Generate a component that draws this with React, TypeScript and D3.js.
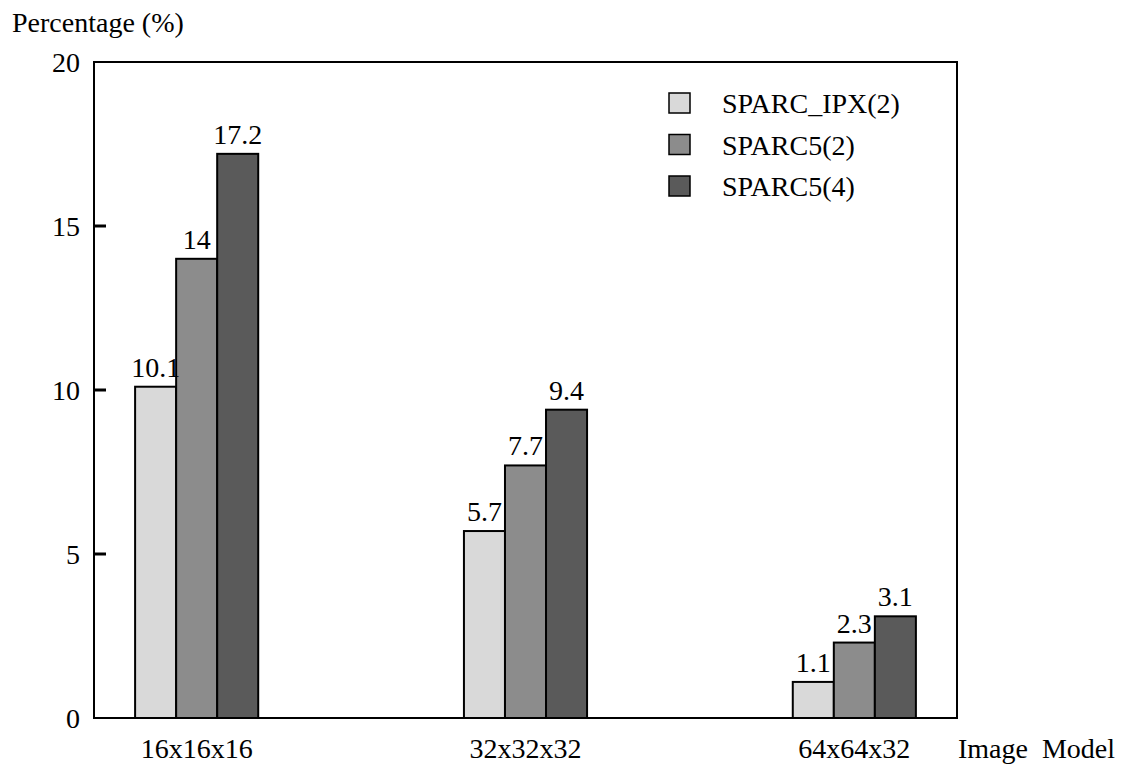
import React from "react";
import * as d3 from "d3";

const categories = ["16x16x16", "32x32x32", "64x64x32"];
const seriesNames = ["SPARC_IPX(2)", "SPARC5(2)", "SPARC5(4)"];
const sparcIpx2 = [10.1, 5.7, 1.1];
const sparc5_2 = [14, 7.7, 2.3];
const sparc5_4 = [17.2, 9.4, 3.1];
const seriesColors = ["#d9d9d9", "#8c8c8c", "#5a5a5a"];
const yTicks = [0, 5, 10, 15, 20];

const W = 1123;
const H = 767;
const M = { left: 94, right: 957, top: 62, bottom: 718 };
const FONT = "Liberation Serif, Times New Roman, Times, serif";
const FS = 28;

export default function App() {
  const seriesValues = [sparcIpx2, sparc5_2, sparc5_4];

  const x0 = d3
    .scaleBand<string>()
    .domain(categories)
    .range([M.left, M.right])
    .paddingInner(0.6256)
    .paddingOuter(0.125);

  const x1 = d3
    .scaleBand<string>()
    .domain(seriesNames)
    .range([0, x0.bandwidth()]);

  const y = d3.scaleLinear().domain([0, 20]).range([M.bottom, M.top]);

  const txt = { fontFamily: FONT, fontSize: FS } as React.CSSProperties;

  return (
    <svg
      width={W}
      height={H}
      style={{ position: "absolute", left: 0, top: 0, background: "#fff", fontFamily: FONT }}
    >
      {/* y axis title */}
      <text x={12} y={32} style={txt} fill="#000">
        Percentage (%)
      </text>

      {/* bars */}
      {categories.map((cat, ci) => (
        <g key={cat} transform={`translate(${x0(cat)},0)`}>
          {seriesNames.map((s, si) => {
            const v = seriesValues[si][ci];
            return (
              <rect
                key={s}
                x={x1(s)}
                y={y(v)}
                width={x1.bandwidth()}
                height={y(0) - y(v)}
                fill={seriesColors[si]}
                stroke="#000"
                strokeWidth={2}
              />
            );
          })}
          {seriesNames.map((s, si) => {
            const v = seriesValues[si][ci];
            return (
              <text
                key={s + "-lbl"}
                x={(x1(s) as number) + x1.bandwidth() / 2}
                y={y(v) - 10}
                textAnchor="middle"
                style={txt}
                fill="#000"
              >
                {String(v)}
              </text>
            );
          })}
        </g>
      ))}

      {/* frame */}
      <rect
        x={M.left}
        y={M.top}
        width={M.right - M.left}
        height={M.bottom - M.top}
        fill="none"
        stroke="#000"
        strokeWidth={2}
      />

      {/* y ticks */}
      {yTicks.map((t) => (
        <g key={t}>
          {t > 0 && t < 20 && (
            <line
              x1={M.left - 1}
              x2={M.left + 12}
              y1={y(t)}
              y2={y(t)}
              stroke="#000"
              strokeWidth={3}
            />
          )}
          <text
            x={M.left - 14}
            y={y(t) + 10}
            textAnchor="end"
            style={txt}
            fill="#000"
          >
            {t}
          </text>
        </g>
      ))}

      {/* category labels */}
      {categories.map((cat) => (
        <text
          key={cat}
          x={(x0(cat) as number) + x0.bandwidth() / 2}
          y={758}
          textAnchor="middle"
          style={txt}
          fill="#000"
        >
          {cat}
        </text>
      ))}
      <text x={958} y={758} style={{ ...txt, whiteSpace: "pre" }} fill="#000">
        {"Image  Model"}
      </text>

      {/* legend */}
      {seriesNames.map((s, i) => {
        const cy = 103 + i * 41.5;
        return (
          <g key={s}>
            <rect
              x={669}
              y={cy - 10}
              width={21}
              height={20}
              fill={seriesColors[i]}
              stroke="#000"
              strokeWidth={1.5}
            />
            <text x={722} y={cy + 10} style={txt} fill="#000">
              {s}
            </text>
          </g>
        );
      })}
    </svg>
  );
}
